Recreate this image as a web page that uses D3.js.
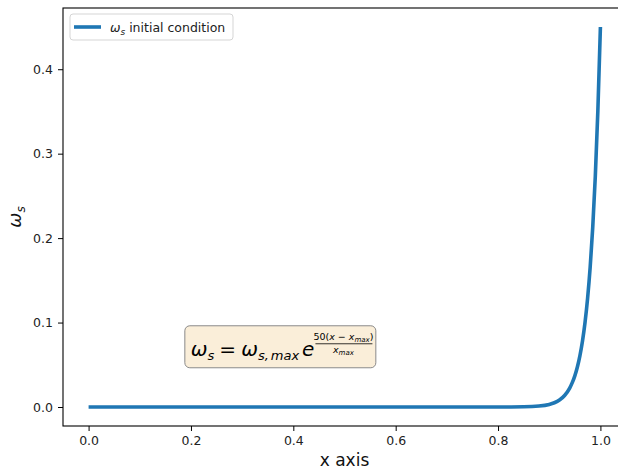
<!DOCTYPE html>
<html>
<head>
<meta charset="utf-8">
<script src="https://cdn.jsdelivr.net/npm/d3@7"></script>
<style>
  body { margin: 0; background: #fff; }
  svg { display: block; font-family: "DejaVu Sans", sans-serif; }
</style>
</head>
<body>
<div id="my_dataviz"></div>
<script>
// values
var xValues = [0.0, 0.2, 0.4, 0.6, 0.8, 0.85, 0.88, 0.90, 0.91, 0.92, 0.93, 0.94, 0.945, 0.95, 0.955, 0.96, 0.965, 0.97, 0.975, 0.98, 0.985, 0.99, 0.995, 1.0];
var omegaValues = [0.0, 0.0, 0.0, 0.0, 0.00002, 0.00025, 0.0011, 0.0030, 0.0050, 0.0082, 0.0136, 0.0224, 0.0288, 0.0369, 0.0474, 0.0609, 0.0782, 0.1004, 0.129, 0.1655, 0.2126, 0.2729, 0.3505, 0.45];
var xTicks = [0.0, 0.2, 0.4, 0.6, 0.8, 1.0];
var yTicks = [0.0, 0.1, 0.2, 0.3, 0.4];
var legendLabel = "initial condition";

var W = 618, H = 472;
var margin = {top: 8, right: -8, bottom: 46, left: 63};
var width = W - margin.left - margin.right,
    height = H - margin.top - margin.bottom;

var svg = d3.select("#my_dataviz")
  .append("svg")
    .attr("width", W)
    .attr("height", H)
  .append("g")
    .attr("transform", "translate(" + margin.left + "," + margin.top + ")");

var x = d3.scaleLinear().domain([-0.05, 1.05]).range([0, width]);
var y = d3.scaleLinear().domain([-0.0225, 0.4725]).range([height, 0]);

var data = xValues.map(function(d, i) { return {x: d, y: omegaValues[i]}; });

// axes
var xAxis = svg.append("g")
  .attr("transform", "translate(0," + height + ")")
  .call(d3.axisBottom(x).tickValues(xTicks).tickFormat(d3.format(".1f")).tickSize(5).tickPadding(5));
var yAxis = svg.append("g")
  .call(d3.axisLeft(y).tickValues(yTicks).tickFormat(d3.format(".1f")).tickSize(5).tickPadding(5));

[xAxis, yAxis].forEach(function(a) {
  a.select(".domain").remove();
  a.selectAll(".tick line").attr("stroke", "#000").attr("stroke-width", 1);
  a.selectAll(".tick text").attr("fill", "#222").style("font-size", "12.5px").style("font-family", "DejaVu Sans");
});

// frame
svg.append("rect")
  .attr("x", 0).attr("y", 0)
  .attr("width", width).attr("height", height)
  .attr("fill", "none").attr("stroke", "#000").attr("stroke-width", 1.1);

// line
var line = d3.line()
  .x(function(d) { return x(d.x); })
  .y(function(d) { return y(d.y); })
  .curve(d3.curveMonotoneX);

svg.append("path")
  .datum(data)
  .attr("fill", "none")
  .attr("stroke", "#1f77b4")
  .attr("stroke-width", 3.6)
  .attr("d", line);

// axis labels
svg.append("text")
  .attr("x", x(0.5)).attr("y", height + 40)
  .attr("text-anchor", "middle")
  .style("font-size", "17px")
  .attr("fill", "#111")
  .text("x axis");

var yl = svg.append("text")
  .attr("transform", "translate(" + (-42) + "," + y(0.225) + ") rotate(-90)")
  .attr("text-anchor", "middle")
  .style("font-size", "18px")
  .attr("fill", "#111");
yl.append("tspan").style("font-style", "italic").text("ω");
yl.append("tspan").attr("dy", 4).style("font-size", "12px").style("font-style", "italic").text("s");

// legend
var lg = svg.append("g").attr("transform", "translate(7,6)");
lg.append("rect")
  .attr("width", 163).attr("height", 26).attr("rx", 3)
  .attr("fill", "#fff").attr("fill-opacity", 0.8)
  .attr("stroke", "#d5d5d5");
lg.append("line")
  .attr("x1", 4).attr("x2", 31).attr("y1", 13).attr("y2", 13)
  .attr("stroke", "#1f77b4").attr("stroke-width", 3.6);
var lt = lg.append("text").attr("x", 40).attr("y", 17.5)
  .style("font-size", "12.5px").attr("fill", "#222");
lt.append("tspan").style("font-style", "italic").text("ω");
lt.append("tspan").attr("dy", 3).style("font-size", "9px").style("font-style", "italic").text("s");
lt.append("tspan").attr("dy", -3).text(" " + legendLabel);

// formula box
var fb = svg.append("g").attr("transform", "translate(" + (x(0.19) - 1) + "," + (y(0.095) - 1) + ")");
fb.append("rect")
  .attr("width", 191).attr("height", 42).attr("rx", 5)
  .attr("fill", "#f5deb3").attr("fill-opacity", 0.5)
  .attr("stroke", "#8a8a8a").attr("stroke-width", 1);

// lay the formula out piece by piece, left to right
var pieces = [
  {t: "ω", s: 20, it: true, dy: 0, gap: 0},
  {t: "s", s: 13, it: true, dy: 4, gap: 0},
  {t: "=", s: 20, it: false, dy: 0, gap: 5},
  {t: "ω", s: 20, it: true, dy: 0, gap: 5},
  {t: "s,", s: 13, it: true, dy: 4, gap: 0},
  {t: "max", s: 13, it: true, dy: 4, gap: 2},
  {t: "e", s: 20, it: true, dy: 0, gap: 3}
];
var cx = 6;
pieces.forEach(function(p) {
  cx += p.gap;
  var t = fb.append("text").attr("x", cx).attr("y", 30 + p.dy)
    .style("font-size", p.s + "px")
    .style("font-style", p.it ? "italic" : "normal")
    .attr("fill", "#000")
    .text(p.t);
  cx += t.node().getComputedTextLength();
});

var ex = cx + 1;
fb.append("text").attr("x", ex + 28).attr("y", 14)
  .attr("text-anchor", "middle").style("font-size", "9.5px").attr("fill", "#000")
  .html('50(<tspan font-style="italic">x</tspan> − <tspan font-style="italic">x</tspan><tspan font-size="7px" font-style="italic" dy="2">max</tspan><tspan dy="-2">)</tspan>');
fb.append("line")
  .attr("x1", ex).attr("x2", ex + 57).attr("y1", 18).attr("y2", 18)
  .attr("stroke", "#000").attr("stroke-width", 0.8);
fb.append("text").attr("x", ex + 28).attr("y", 27)
  .attr("text-anchor", "middle").style("font-size", "9.5px").attr("fill", "#000")
  .html('<tspan font-style="italic">x</tspan><tspan font-size="7px" font-style="italic" dy="2">max</tspan>');
</script>
</body>
</html>
